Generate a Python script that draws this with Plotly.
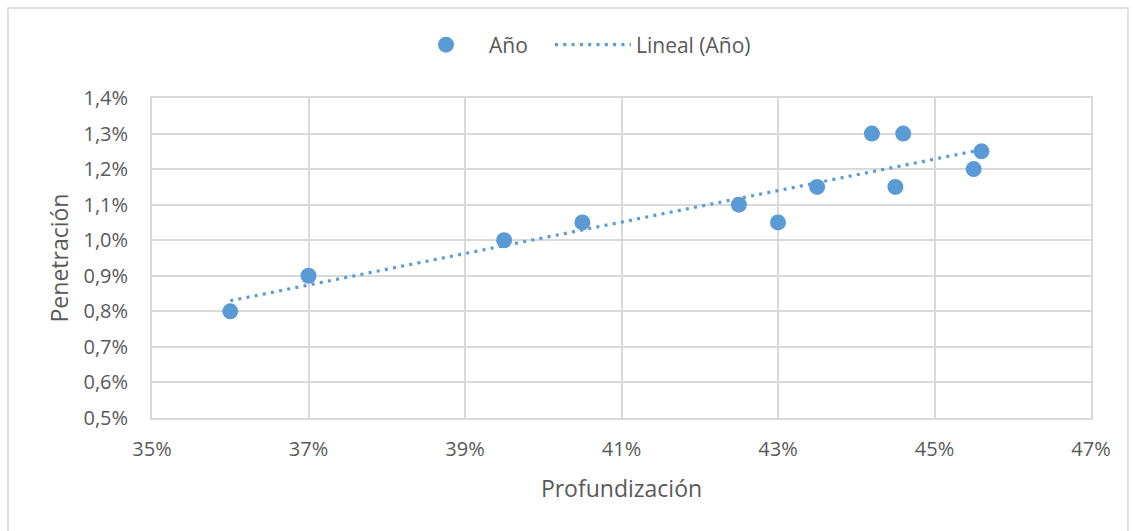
import numpy as np
import plotly.graph_objects as go

# Profundización (%) vs Penetración (%)
profundizacion = [36.0, 37.0, 39.5, 40.5, 42.5, 43.0, 43.5, 44.2, 44.6, 44.5, 45.5, 45.6]
penetracion = [0.80, 0.90, 1.00, 1.05, 1.10, 1.05, 1.15, 1.30, 1.30, 1.15, 1.20, 1.25]

x_ticks = [35, 37, 39, 41, 43, 45, 47]
x_labels = ["35%", "37%", "39%", "41%", "43%", "45%", "47%"]
y_ticks = [0.5, 0.6, 0.7, 0.8, 0.9, 1.0, 1.1, 1.2, 1.3, 1.4]
y_labels = ["0,5%", "0,6%", "0,7%", "0,8%", "0,9%", "1,0%", "1,1%", "1,2%", "1,3%", "1,4%"]

BLUE = "#5B9BD5"
GRID = "#D9D9D9"
TEXT = "#595959"
FONT = "Open Sans"

# Least-squares linear trend over the observed range
slope, intercept = np.polyfit(profundizacion, penetracion, 1)
trend_x = [min(profundizacion), max(profundizacion)]
trend_y = [slope * v + intercept for v in trend_x]

fig = go.Figure()
fig.add_trace(go.Scatter(
    x=profundizacion, y=penetracion, mode="markers", name="Año",
    marker=dict(color=BLUE, size=16, line=dict(width=0)),
    legend="legend",
))
fig.add_trace(go.Scatter(
    x=trend_x, y=trend_y, mode="lines", name="Lineal (Año)",
    line=dict(color=BLUE, width=3.2, dash="3px,5.3px"),
    legend="legend2",
))

axis_common = dict(
    showgrid=True, gridcolor=GRID, gridwidth=1.8,
    showline=True, linecolor=GRID, linewidth=1.8, mirror=True,
    zeroline=False, ticks="", tickfont=dict(family=FONT, size=20, color=TEXT),
)

legend_common = dict(
    orientation="h", xanchor="left", y=1 + 53 / 320, yanchor="middle",
    font=dict(family=FONT, size=21, color=TEXT),
    bgcolor="rgba(0,0,0,0)", itemwidth=76,
)

fig.update_layout(
    width=1133, height=531,
    margin=dict(l=152, r=42, t=98, b=113),
    paper_bgcolor="white", plot_bgcolor="white",
    font=dict(family=FONT, color=TEXT),
    showlegend=True,
    legend=dict(x=(403 - 152) / 939, **legend_common),
    legend2=dict(x=(550 - 152) / 939, **legend_common),
    xaxis=dict(
        range=[35, 47], tickvals=x_ticks, ticktext=x_labels, ticklabelstandoff=12,
        title=dict(text="Profundización", font=dict(family=FONT, size=23, color=TEXT), standoff=20),
        **axis_common,
    ),
    yaxis=dict(
        range=[0.5, 1.4], tickvals=y_ticks, ticktext=y_labels, ticklabelstandoff=18,
        title=dict(text="Penetración", font=dict(family=FONT, size=23, color=TEXT), standoff=8),
        **axis_common,
    ),
    shapes=[dict(
        type="rect", xref="paper", yref="paper",
        x0=-144 / 939, x1=1 + 37 / 939, y0=-125 / 320, y1=1 + 90 / 320,
        line=dict(color=GRID, width=1.5), fillcolor="rgba(0,0,0,0)", layer="below",
    )],
)

fig.write_html("out.html")
